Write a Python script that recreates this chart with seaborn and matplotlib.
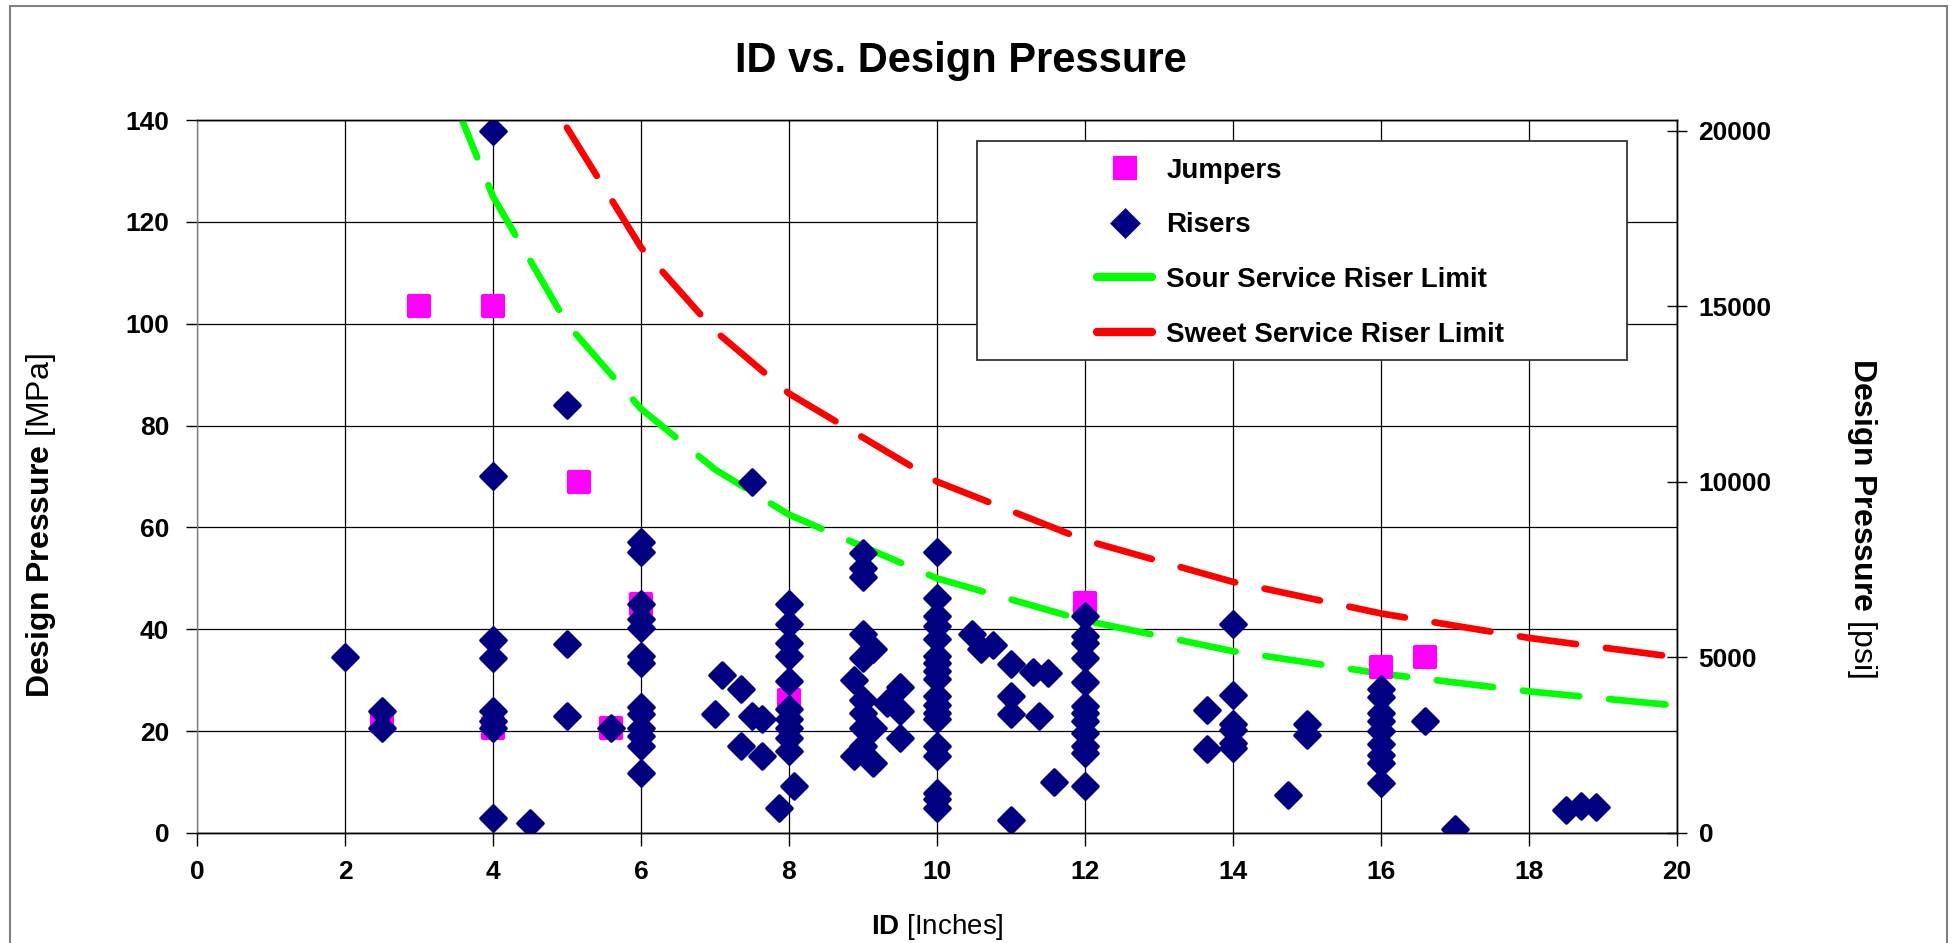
import matplotlib
matplotlib.use("Agg")
from matplotlib import pyplot as plt
from matplotlib.patches import Rectangle
from matplotlib.lines import Line2D
import seaborn as sns

# jumpers: ID [in] / design pressure [MPa]
jumper_id = [2.5, 3.0, 4.0, 4.0, 5.16, 5.6, 6.0, 8.0, 12.0, 16.0, 16.6]
jumper_mpa = [22.0, 103.4, 103.4, 20.7, 68.9, 20.7, 45.0, 26.2, 45.1, 32.5, 34.6]

# risers
riser_id = [
    2.0, 2.5, 2.5,
    4.0, 4.0, 4.0, 4.0, 4.0, 4.0, 4.0, 4.0,
    4.5, 5.0, 5.0, 5.0, 5.6,
    6.0, 6.0, 6.0, 6.0, 6.0, 6.0, 6.0, 6.0, 6.0, 6.0, 6.0, 6.0, 6.0,
    7.0, 7.1, 7.35, 7.35, 7.5, 7.5, 7.63, 7.63, 7.87,
    8.0, 8.0, 8.0, 8.0, 8.0, 8.0, 8.0, 8.0, 8.0, 8.0, 8.07,
    8.88, 8.88,
    9.0, 9.0, 9.0, 9.0, 9.0, 9.0, 9.0, 9.0, 9.0,
    9.14, 9.14, 9.14, 9.32, 9.5, 9.5, 9.5,
    10.0, 10.0, 10.0, 10.0, 10.0, 10.0, 10.0, 10.0, 10.0,
    10.0, 10.0, 10.0, 10.0, 10.0, 10.0, 10.0, 10.0, 10.0,
    10.48, 10.59, 10.76,
    11.0, 11.0, 11.0, 11.0, 11.3, 11.5, 11.38, 11.58,
    12.0, 12.0, 12.0, 12.0, 12.0, 12.0, 12.0, 12.0, 12.0, 12.0, 12.0, 12.0,
    13.65, 13.65,
    14.0, 14.0, 14.0, 14.0, 14.0, 14.0,
    14.75, 15.0, 15.0,
    16.0, 16.0, 16.0, 16.0, 16.0, 16.0, 16.0, 16.0, 16.0,
    16.6, 17.0, 18.5, 18.7, 18.9,
]
riser_mpa = [
    34.5, 23.9, 20.7,
    137.8, 70.0, 37.8, 34.4, 23.9, 22.0, 20.7, 3.0,
    2.0, 84.0, 37.2, 23.0, 20.7,
    57.2, 55.1, 45.0, 42.1, 40.3, 34.8, 33.4, 24.7, 23.3, 20.7, 19.0, 17.0, 11.8,
    23.4, 31.1, 28.2, 17.0, 68.9, 23.0, 22.4, 15.1, 4.9,
    45.0, 41.0, 37.4, 34.8, 29.8, 24.3, 22.3, 20.7, 18.7, 16.1, 9.2,
    30.0, 15.1,
    55.0, 52.1, 50.2, 39.0, 34.4, 26.2, 23.6, 20.7, 17.0,
    36.1, 20.7, 13.8, 25.6, 28.7, 23.9, 18.7,
    55.1, 46.2, 42.6, 40.7, 38.0, 34.8, 33.4, 31.8, 30.2,
    26.9, 25.2, 23.6, 22.3, 17.0, 15.1, 7.9, 6.6, 4.9,
    39.0, 36.1, 37.0,
    33.1, 26.9, 23.3, 2.5, 31.6, 31.5, 23.0, 10.0,
    42.6, 38.7, 37.4, 34.4, 29.7, 24.9, 23.6, 22.0, 19.7, 17.0, 15.7, 9.3,
    24.1, 16.5,
    41.0, 27.0, 21.3, 20.3, 17.7, 16.7,
    7.5, 21.3, 19.3,
    28.2, 26.6, 23.6, 22.0, 20.0, 17.4, 15.4, 13.8, 9.8,
    22.0, 0.7, 4.6, 5.2, 5.1,
]

# limit curves
sour_id = [3.5, 4, 5, 6, 7, 8, 10, 12, 14, 16, 18, 20]
sour_mpa = [143.0, 125.0, 100.0, 83.3, 71.4, 62.5, 50.0, 41.7, 35.7, 31.3, 27.8, 25.0]
sweet_id = [5, 6, 7, 8, 10, 12, 14, 16, 18, 20]
sweet_mpa = [138.5, 115.0, 98.6, 86.3, 69.0, 57.5, 49.3, 43.1, 38.3, 34.5]

x_ticks = list(range(0, 21, 2))
y_ticks = list(range(0, 141, 20))
psi_ticks = [0, 5000, 10000, 15000, 20000]
MPA_TO_PSI = 145.038

sns.set_style("white")
plt.rcParams["font.family"] = ["Liberation Sans", "DejaVu Sans"]
plt.rcParams["mathtext.fontset"] = "custom"
plt.rcParams["mathtext.rm"] = "Liberation Sans"
plt.rcParams["mathtext.bf"] = "Liberation Sans:bold"
plt.rcParams["mathtext.it"] = "Liberation Sans:italic"
plt.rcParams["text.color"] = "black"
plt.rcParams["axes.labelcolor"] = "black"
plt.rcParams["xtick.color"] = "black"
plt.rcParams["ytick.color"] = "black"

fig = plt.figure(figsize=(19.5, 9.43), dpi=100)
ax = fig.add_axes([0.1010, 0.1167, 0.7590, 0.7560])

JUMP_C = "#FF00FF"
RISER_C = "#000080"
SOUR_C = "#00FF00"
SWEET_C = "#FF0000"
JUMP_MS = 14
RISER_MS = 12.8

dash = (0, (8.5, 4.5))
sns.lineplot(x=sour_id, y=sour_mpa, ax=ax, color=SOUR_C, lw=4.8, linestyle=dash,
             dash_capstyle="round", sort=False, estimator=None, legend=False, zorder=3)
sns.lineplot(x=sweet_id, y=sweet_mpa, ax=ax, color=SWEET_C, lw=4.8, linestyle=dash,
             dash_capstyle="round", sort=False, estimator=None, legend=False, zorder=3)

sns.scatterplot(x=jumper_id, y=jumper_mpa, ax=ax, marker="s", s=JUMP_MS ** 2,
                color=JUMP_C, edgecolor=JUMP_C, linewidth=3, joinstyle="round",
                legend=False, zorder=4)
sns.scatterplot(x=riser_id, y=riser_mpa, ax=ax, marker="D", s=RISER_MS ** 2,
                color=RISER_C, edgecolor=RISER_C, linewidth=2.5, joinstyle="round",
                legend=False, zorder=5)

ax.set_xlim(0, 20)
ax.set_ylim(0, 140)
ax.set_xticks(x_ticks)
ax.set_yticks(y_ticks)
ax.set_axisbelow(True)
ax.grid(True, color="black", lw=0.9)
ax.tick_params(axis="x", direction="out", length=9, width=1, pad=10.5, labelsize=19,
               bottom=True, colors="black")
ax.tick_params(axis="y", direction="out", length=8, width=1, pad=12, labelsize=19,
               left=True, right=False, colors="black")
plt.setp(ax.get_xticklabels() + ax.get_yticklabels(), fontweight="bold")
for sp in ax.spines.values():
    sp.set_color("black")
    sp.set_linewidth(1)
ax.spines["left"].set_color("#808080")

ax.set_xlabel(r"$\mathbf{ID}$ [Inches]", fontsize=20)
ax.xaxis.set_label_coords(0.5, -0.1417)
ax.xaxis.label.set_va("baseline")
ax.set_ylabel(r"$\mathbf{Design\ Pressure}$ [MPa]", fontsize=23, ha="center", va="center")
ax.yaxis.set_label_coords(-0.1054, 0.431)

# right axis in psi
ax2 = ax.twinx()
ax2.set_ylim(0, 140 * MPA_TO_PSI)
ax2.set_yticks(psi_ticks)
ax2.tick_params(axis="y", direction="inout", length=15, width=1, pad=8, labelsize=19,
                right=True, colors="black")
plt.setp(ax2.get_yticklabels(), fontweight="bold")
ax2.grid(False)
for sp in ax2.spines.values():
    sp.set_color("black")
    sp.set_linewidth(1)
ax2.spines["left"].set_visible(False)
ax2.set_ylabel(r"$\mathbf{Design\ Pressure}$ [psi]", fontsize=23, rotation=270,
               ha="center", va="center")
ax2.yaxis.set_label_coords(1.125, 0.442)

# legend box
ax.add_patch(Rectangle((0.527, 0.6634), 0.439, 0.3071, transform=ax.transAxes,
                       facecolor="white", edgecolor="#333333", lw=1.3, zorder=6))
handles = [
    Line2D([], [], ls="none", marker="s", markersize=JUMP_MS, color=JUMP_C, mec=JUMP_C,
           mew=3),
    Line2D([], [], ls="none", marker="D", markersize=RISER_MS, color=RISER_C, mec=RISER_C,
           mew=2.5),
    Line2D([], [], color=SOUR_C, lw=6, solid_capstyle="round"),
    Line2D([], [], color=SWEET_C, lw=6, solid_capstyle="round"),
]
labels = ["Jumpers", "Risers", "Sour Service Riser Limit", "Sweet Service Riser Limit"]
leg = ax.legend(handles, labels, loc="upper left", bbox_to_anchor=(0.608, 0.947),
                bbox_transform=ax.transAxes, frameon=False, borderpad=0, borderaxespad=0,
                handlelength=2.0, handletextpad=0.5, labelspacing=1.03,
                prop={"family": "Liberation Sans", "weight": "bold", "size": 20})
leg.set_zorder(7)

fig.text(0.493, 0.924, "ID vs. Design Pressure", ha="center", va="baseline",
         fontsize=30, fontweight="bold", color="black")

# outer chart border
fig.add_artist(Rectangle((10 / 1950, -0.05), 1937 / 1950, 1 - 6 / 943 + 0.05,
                         transform=fig.transFigure, fill=False, edgecolor="#808080", lw=1.5))

fig.savefig("out.png", dpi=100)
